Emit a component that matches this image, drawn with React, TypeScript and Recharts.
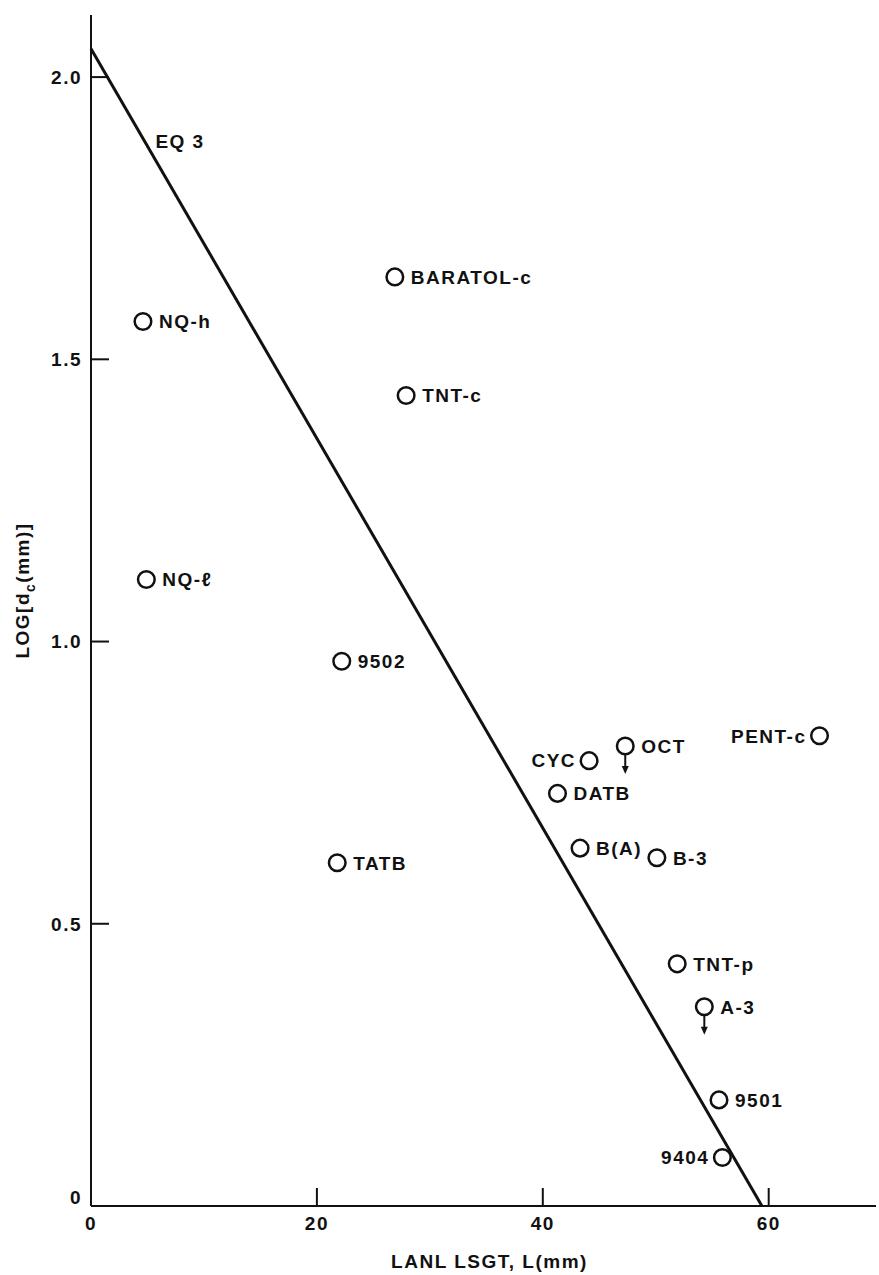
import { ScatterChart, Scatter, XAxis, YAxis } from 'recharts';

// LANL small-scale gap test vs. log critical diameter
const names = ['BARATOL-c', 'NQ-h', 'TNT-c', 'NQ-\u2113', '9502', 'TATB', 'PENT-c', 'CYC', 'OCT', 'DATB', 'B(A)', 'B-3', 'TNT-p', 'A-3', '9501', '9404'];
const lsgt = [26.9, 4.6, 27.9, 4.9, 22.2, 21.8, 64.5, 44.1, 47.3, 41.3, 43.3, 50.1, 51.9, 54.3, 55.6, 55.9];
const logDc = [1.646, 1.567, 1.436, 1.11, 0.965, 0.608, 0.833, 0.789, 0.815, 0.731, 0.634, 0.617, 0.429, 0.353, 0.188, 0.086];
const leftLabels = ['PENT-c', 'CYC', '9404'];
const upperBounds = ['OCT', 'A-3'];

// EQ 3 fit line endpoints
const eqL = [0, 59.4];
const eqLog = [2.05, 0];
const eqLabel = [{ L: 5.7, y: 1.887, name: 'EQ 3' }];

const xTicks = [0, 20, 40, 60];
const yTicks = [0, 0.5, 1.0, 1.5, 2.0];

const points = names.map((n, i) => ({ L: lsgt[i], y: logDc[i], name: n }));
const eqLine = eqL.map((l, i) => ({ L: l, y: eqLog[i] }));

const font = '"Liberation Sans", Arial, Helvetica, sans-serif';
const txt = { fontFamily: font, fontWeight: 700, fontSize: 19, letterSpacing: 1.5, fill: '#111' };

const Marker = (props: any) => {
  const { cx, cy, payload } = props;
  const left = leftLabels.includes(payload.name);
  const bound = upperBounds.includes(payload.name);
  return (
    <g>
      {bound && (
        <g>
          <line x1={cx} y1={cy + 8} x2={cx} y2={cy + 22} stroke="#111" strokeWidth={2} />
          <path d={`M${cx - 3.5},${cy + 20} L${cx + 3.5},${cy + 20} L${cx},${cy + 28} Z`} fill="#111" />
        </g>
      )}
      <circle cx={cx} cy={cy} r={8.3} fill="#fff" stroke="#111" strokeWidth={2.5} />
      <text x={left ? cx - 13 : cx + 16} y={cy} dy="0.36em" textAnchor={left ? 'end' : 'start'} {...txt}>
        {payload.name}
      </text>
    </g>
  );
};

const TextOnly = (props: any) => {
  const { cx, cy, payload } = props;
  return (
    <text x={cx} y={cy} dy="0.36em" textAnchor="start" {...txt}>
      {payload.name}
    </text>
  );
};

const XTick = (props: any) => {
  const { x, y, payload } = props;
  return (
    <g>
      {payload.value !== 0 && <line x1={x} y1={y} x2={x} y2={y - 18} stroke="#111" strokeWidth={2} />}
      <text x={x} y={y + 24} textAnchor="middle" {...txt}>
        {payload.value}
      </text>
    </g>
  );
};

const YTick = (props: any) => {
  const { x, y, payload } = props;
  const v = payload.value;
  return (
    <g>
      {v !== 0 && <line x1={x} y1={y} x2={x + 18} y2={y} stroke="#111" strokeWidth={2} />}
      <text x={x - 9} y={v === 0 ? y - 9 : y} dy="0.36em" textAnchor="end" {...txt}>
        {v === 0 ? '0' : v.toFixed(1)}
      </text>
    </g>
  );
};

const XTitle = (props: any) => {
  const { viewBox } = props;
  return (
    <text x={viewBox.x + viewBox.width / 2 + 6} y={viewBox.y + 62} textAnchor="middle" {...txt}>
      LANL LSGT, L(mm)
    </text>
  );
};

const YTitle = (props: any) => {
  const { viewBox } = props;
  const x = viewBox.x + 29;
  const y = viewBox.y + viewBox.height / 2 - 20;
  return (
    <text x={x} y={y} textAnchor="middle" transform={`rotate(-90, ${x}, ${y})`} {...txt}>
      LOG[d
      <tspan fontSize={14} dy={6}>c</tspan>
      <tspan dy={-6}>(mm)]</tspan>
    </text>
  );
};

export default function App() {
  return (
    <div style={{ position: 'absolute', left: 0, top: 0, background: '#fff' }}>
      <ScatterChart width={879} height={1275} margin={{ top: 15, right: 3, bottom: 0, left: 0 }}>
        <XAxis
          dataKey="L"
          type="number"
          domain={[0, 69.5]}
          ticks={xTicks}
          tickSize={0}
          tickMargin={0}
          tick={<XTick />}
          height={69}
          axisLine={{ stroke: '#111', strokeWidth: 2 }}
          label={<XTitle />}
        />
        <YAxis
          dataKey="y"
          type="number"
          domain={[0, 2.11]}
          ticks={yTicks}
          tickSize={0}
          tickMargin={0}
          tick={<YTick />}
          width={91}
          axisLine={{ stroke: '#111', strokeWidth: 2 }}
          label={<YTitle />}
        />
        <XAxis xAxisId="top" orientation="top" type="number" domain={[0, 69.5]} height={0} tick={false} tickLine={false} axisLine={{ stroke: '#111', strokeWidth: 2 }} />
        <YAxis yAxisId="right" orientation="right" type="number" domain={[0, 2.11]} width={0} tick={false} tickLine={false} axisLine={{ stroke: '#111', strokeWidth: 2 }} />
        <Scatter data={eqLine} line={{ stroke: '#111', strokeWidth: 3 }} shape={() => <g />} isAnimationActive={false} />
        <Scatter data={eqLabel} shape={<TextOnly />} isAnimationActive={false} />
        <Scatter data={points} shape={<Marker />} isAnimationActive={false} />
      </ScatterChart>
    </div>
  );
}
